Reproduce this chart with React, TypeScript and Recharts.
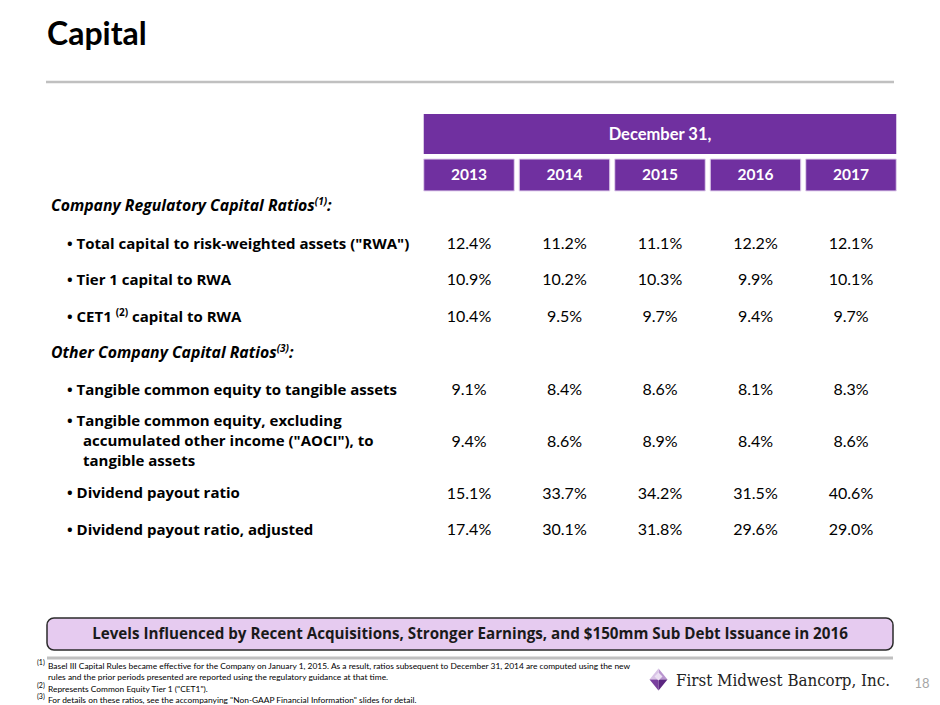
import React from 'react';
import { ComposedChart, XAxis, YAxis, Scatter, ReferenceArea } from 'recharts';

// ---------- data ----------
const YEARS = [2013, 2014, 2015, 2016, 2017];
const HEADER_TITLE = 'December 31,';

const TOTAL_CAPITAL_RWA = [12.4, 11.2, 11.1, 12.2, 12.1];
const TIER1_RWA = [10.9, 10.2, 10.3, 9.9, 10.1];
const CET1_RWA = [10.4, 9.5, 9.7, 9.4, 9.7];
const TCE_TA = [9.1, 8.4, 8.6, 8.1, 8.3];
const TCE_EX_AOCI_TA = [9.4, 8.6, 8.9, 8.4, 8.6];
const DIVIDEND_PAYOUT = [15.1, 33.7, 34.2, 31.5, 40.6];
const DIVIDEND_PAYOUT_ADJ = [17.4, 30.1, 31.8, 29.6, 29.0];

type RowDef = {
  kind: 'section' | 'item';
  lines: string[];
  sup?: string;
  after?: string;
  values?: number[];
};

const ROW_DEFS: RowDef[] = [
  { kind: 'section', lines: ['Company Regulatory Capital Ratios'], sup: '(1)', after: ':' },
  { kind: 'item', lines: ['Total capital to risk-weighted assets ("RWA")'], values: TOTAL_CAPITAL_RWA },
  { kind: 'item', lines: ['Tier 1 capital to RWA'], values: TIER1_RWA },
  { kind: 'item', lines: ['CET1 '], sup: '(2)', after: ' capital to RWA', values: CET1_RWA },
  { kind: 'section', lines: ['Other Company Capital Ratios'], sup: '(3)', after: ':' },
  { kind: 'item', lines: ['Tangible common equity to tangible assets'], values: TCE_TA },
  {
    kind: 'item',
    lines: ['Tangible common equity, excluding', 'accumulated other income ("AOCI"), to', 'tangible assets'],
    values: TCE_EX_AOCI_TA,
  },
  { kind: 'item', lines: ['Dividend payout ratio'], values: DIVIDEND_PAYOUT },
  { kind: 'item', lines: ['Dividend payout ratio, adjusted'], values: DIVIDEND_PAYOUT_ADJ },
];

const BANNER_TEXT =
  'Levels Influenced by Recent Acquisitions, Stronger Earnings, and $150mm Sub Debt Issuance in 2016';
const FOOTNOTES = [
  { sup: '(1)', text: 'Basel III Capital Rules became effective for the Company on January 1, 2015.  As a result, ratios subsequent to December 31, 2014 are computed using the new' },
  { sup: '', text: 'rules and the prior periods presented are reported using the regulatory guidance at that time.' },
  { sup: '(2)', text: 'Represents Common Equity Tier 1 ("CET1").' },
  { sup: '(3)', text: 'For details on these ratios, see the accompanying "Non-GAAP Financial Information" slides for detail.' },
];
const TITLE = 'Capital';
const COMPANY = 'First Midwest Bancorp, Inc.';
const PAGE = '18';

// ---------- layout (row spacing in axis units) ----------
const ROW_GAPS = [0, 1.05, 1, 1, 1, 1, 1.42, 1.42, 1];
const ROW_POS: number[] = [];
ROW_GAPS.reduce((acc, g) => {
  const p = acc + g;
  ROW_POS.push(Number(p.toFixed(4)));
  return p;
}, 0);

const ROWS = ROW_DEFS.map((r, i) => ({ ...r, pos: ROW_POS[i] }));

const CELLS = ROWS.flatMap((r) =>
  r.values ? r.values.map((v, j) => ({ year: YEARS[j], pos: r.pos, value: v })) : []
);

const FONT = 'Lato, "Open Sans", sans-serif';
const LFONT = '"Open Sans", Lato, sans-serif';
const PURPLE = '#7030A0';
const BOX_HALF = 0.474;
const YEAR_BOX = [-1.26, -0.384];
const TITLE_BOX = [-2.493, -1.397];

const fmt = (v: number) => `${v.toFixed(1)}%`;

const RowTick = (props: any) => {
  const { y, payload } = props;
  const row = ROWS.find((r) => Math.abs(r.pos - payload.value) < 1e-3);
  if (!row) return null;
  if (row.kind === 'section') {
    return (
      <text x={51} y={y} dy="0.35em" fontFamily={LFONT} fontSize={15.8} fontWeight={700} fontStyle="italic" fill="#000">
        {row.lines[0]}
        <tspan fontSize={10} dy={-6}>{row.sup}</tspan>
        <tspan dy={6}>{row.after}</tspan>
      </text>
    );
  }
  const lineH = 20;
  const n = row.lines.length;
  return (
    <g>
      {row.lines.map((ln, k) => {
        const ly = y + (k - (n - 1) / 2) * lineH;
        return (
          <text key={k} x={k === 0 ? 67 : 83} y={ly} dy="0.35em" fontFamily={LFONT} fontSize={15} fontWeight={700} fill="#000">
            {k === 0 ? `\u2022 ${ln}` : ln}
            {k === 0 && row.sup ? (
              <>
                <tspan fontSize={10} dy={-6}>{row.sup}</tspan>
                <tspan dy={6}>{row.after}</tspan>
              </>
            ) : null}
          </text>
        );
      })}
    </g>
  );
};

const ValueCell = (props: any) => {
  const { cx, cy, payload } = props;
  return (
    <text x={cx} y={cy} dy="0.35em" textAnchor="middle" fontFamily={FONT} fontSize={16} fill="#000">
      {fmt(payload.value)}
    </text>
  );
};

const Diamond = () => (
  <g transform="translate(658.5,679.5)">
    <polygon points="0,-11 9,0 0,0" fill="#b995cf" />
    <polygon points="0,-11 -9,0 0,0" fill="#d9c3e6" />
    <polygon points="-9,0 0,11 0,0" fill="#7a3f9e" />
    <polygon points="9,0 0,11 0,0" fill="#5b2580" />
    <polygon points="-4,-3 0,-7 4,-3 0,1" fill="#ece0f3" />
  </g>
);

export default function App() {
  return (
    <div style={{ position: 'absolute', left: 0, top: 0, width: 940, height: 705, background: '#fff' }}>
      <ComposedChart
        width={940}
        height={705}
        data={CELLS}
        margin={{ top: 95.5, right: 41.25, bottom: 135, left: 41.25 }}
      >
        <XAxis type="number" dataKey="year" domain={[2012.5, 2017.5]} hide />
        <YAxis
          type="number"
          dataKey="pos"
          domain={[-3, 10]}
          reversed
          width={380}
          ticks={ROW_POS}
          interval={0}
          axisLine={false}
          tickLine={false}
          tick={<RowTick />}
        />
        <ReferenceArea
          x1={YEARS[0] - BOX_HALF}
          x2={YEARS[YEARS.length - 1] + BOX_HALF}
          y1={TITLE_BOX[0]}
          y2={TITLE_BOX[1]}
          fill={PURPLE}
          fillOpacity={1}
          stroke="none"
          label={{ value: HEADER_TITLE, position: 'center', fill: '#fff', fontSize: 16.5, fontWeight: 700, fontFamily: FONT }}
        />
        {YEARS.map((yr) => (
          <ReferenceArea
            key={yr}
            x1={yr - BOX_HALF}
            x2={yr + BOX_HALF}
            y1={YEAR_BOX[0]}
            y2={YEAR_BOX[1]}
            fill={PURPLE}
            fillOpacity={1}
            stroke="#e3d3ee"
            strokeWidth={1}
            label={{ value: String(yr), position: 'center', fill: '#fff', fontSize: 15.5, fontWeight: 700, fontFamily: FONT }}
          />
        ))}
        <Scatter data={CELLS} shape={<ValueCell />} isAnimationActive={false} />
      </ComposedChart>

      <svg width={940} height={705} style={{ position: 'absolute', left: 0, top: 0, pointerEvents: 'none' }}>
        <text x={47} y={45} fontFamily={FONT} fontSize={32} fontWeight={700} fill="#000">
          {TITLE}
        </text>
        <line x1={46} x2={894} y1={82} y2={82} stroke="#c0c0c0" strokeWidth={2.5} />

        <rect x={47} y={618} width={846} height={32} rx={7} ry={7} fill="#e6cbf0" stroke="#2b2b2b" strokeWidth={1.5} />
        <text x={470} y={634} dy="0.35em" textAnchor="middle" fontFamily={LFONT} fontSize={15.2} fontWeight={700} fill="#1a1a1a">
          {BANNER_TEXT}
        </text>
        <line x1={47} x2={893} y1={658} y2={658} stroke="#c0c0c0" strokeWidth={3} />

        {FOOTNOTES.map((f, i) => {
          const y = 666 + i * 11.3;
          return (
            <g key={i}>
              {f.sup ? (
                <text x={37} y={y - 1} fontFamily={FONT} fontSize={7} fill="#000">
                  {f.sup}
                </text>
              ) : null}
              <text x={48} y={y} dy="0.35em" fontFamily={FONT} fontSize={8.4} fill="#000">
                {f.text}
              </text>
            </g>
          );
        })}

        <Diamond />
        <text x={676} y={680} dy="0.35em" fontFamily='"DejaVu Serif", serif' fontSize={16} fill="#222" textLength={214} lengthAdjust="spacingAndGlyphs">
          {COMPANY}
        </text>
        <text x={922} y={683} dy="0.35em" textAnchor="middle" fontFamily={FONT} fontSize={13} fill="#a6a6a6">
          {PAGE}
        </text>
      </svg>
    </div>
  );
}
